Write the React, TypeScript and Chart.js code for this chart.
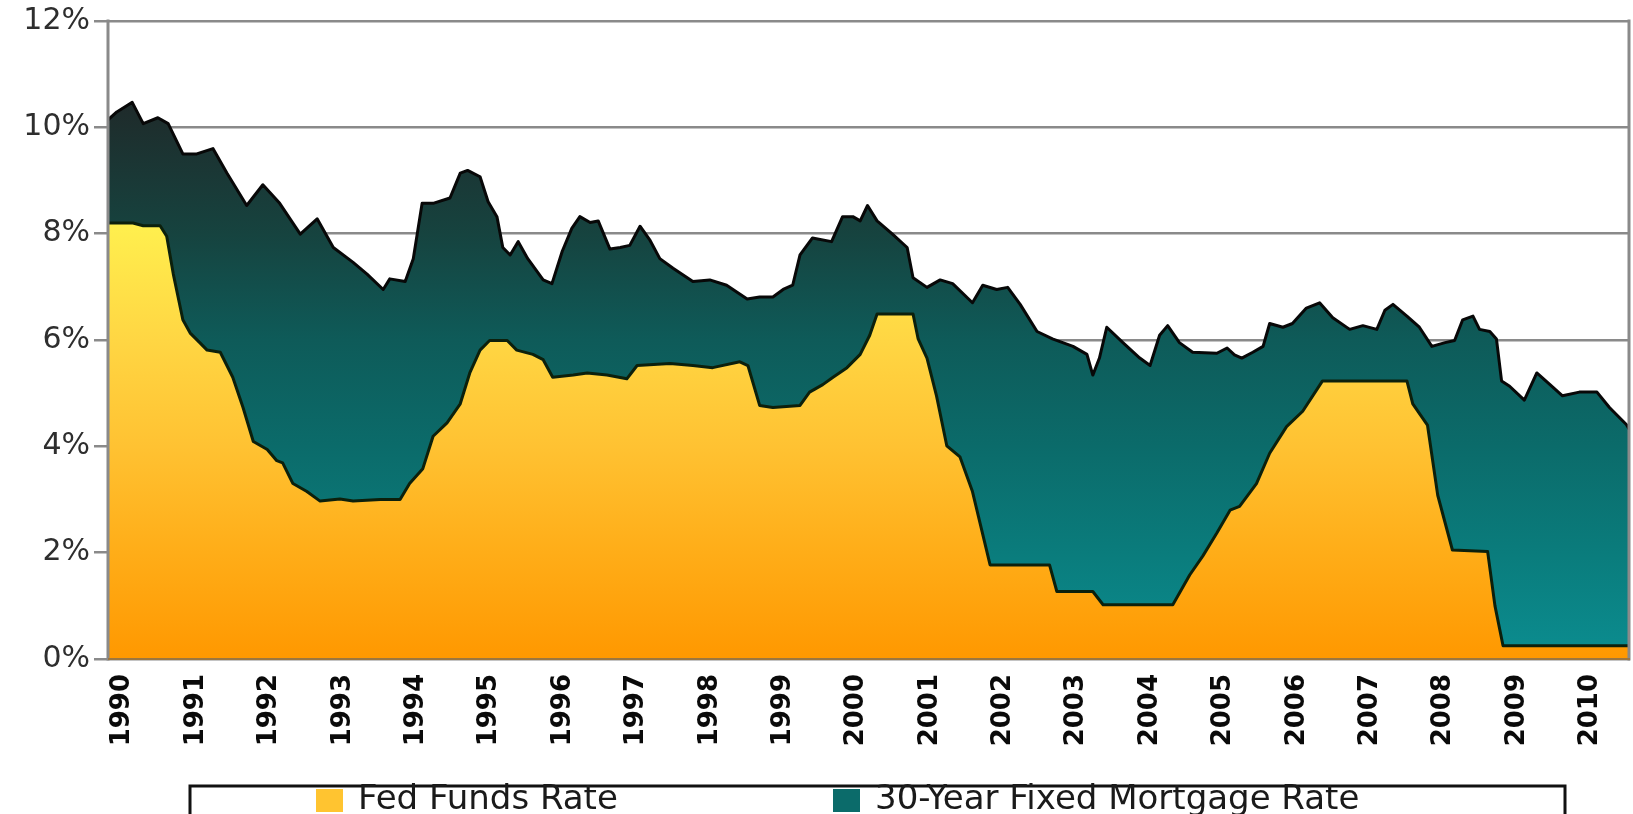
import React, { useEffect, useRef } from 'react';
import { Chart, registerables } from 'chart.js';

Chart.register(...registerables);

// ---------- data ----------
const seriesNames = ['Fed Funds Rate', '30-Year Fixed Mortgage Rate'];

const yearTicks = [
  1990, 1991, 1992, 1993, 1994, 1995, 1996, 1997, 1998, 1999, 2000,
  2001, 2002, 2003, 2004, 2005, 2006, 2007, 2008, 2009, 2010,
];

const fedYears = [
  1989.8, 1990.14, 1990.28, 1990.51, 1990.6, 1990.69, 1990.82, 1990.92, 1991.05, 1991.15,
  1991.33, 1991.5, 1991.64, 1991.78, 1991.97, 1992.1, 1992.18, 1992.32, 1992.51, 1992.69,
  1992.96, 1993.14, 1993.51, 1993.78, 1993.91, 1994.09, 1994.23, 1994.42, 1994.6, 1994.73,
  1994.87, 1995.0, 1995.24, 1995.37, 1995.59, 1995.73, 1995.86, 1996.14, 1996.33, 1996.6,
  1996.87, 1997.01, 1997.46, 1997.77, 1998.04, 1998.41, 1998.52, 1998.68, 1998.86, 1999.23,
  1999.36, 1999.54, 1999.68, 1999.87, 2000.05, 2000.18, 2000.28, 2000.77, 2000.84, 2000.96,
  2001.09, 2001.23, 2001.41, 2001.58, 2001.82, 2002.63, 2002.73, 2003.22, 2003.36, 2004.31,
  2004.54, 2004.72, 2004.91, 2005.09, 2005.22, 2005.45, 2005.63, 2005.86, 2006.08, 2006.35,
  2007.5, 2007.58, 2007.78, 2007.92, 2008.12, 2008.6, 2008.7, 2008.81, 2010.54,
];
const fedRates = [
  8.2, 8.2, 8.15, 8.15, 7.95, 7.24, 6.38, 6.13, 5.95, 5.81,
  5.77, 5.3, 4.73, 4.09, 3.94, 3.73, 3.69, 3.3, 3.15, 2.97,
  3.01, 2.97, 3.0, 3.0, 3.3, 3.58, 4.19, 4.44, 4.8, 5.38,
  5.81, 5.99, 5.99, 5.81, 5.73, 5.63, 5.3, 5.34, 5.38, 5.34,
  5.27, 5.52, 5.56, 5.52, 5.48, 5.59, 5.52, 4.77, 4.73, 4.77,
  5.02, 5.16, 5.3, 5.48, 5.73, 6.09, 6.49, 6.49, 6.02, 5.66,
  4.95, 4.01, 3.8, 3.15, 1.77, 1.77, 1.27, 1.27, 1.02, 1.02,
  1.58, 1.94, 2.37, 2.8, 2.87, 3.3, 3.87, 4.37, 4.66, 5.23,
  5.23, 4.8, 4.4, 3.08, 2.05, 2.02, 1.0, 0.25, 0.25,
];

const mortgageYears = [
  1989.8, 1989.92, 1990.13, 1990.28, 1990.48, 1990.62, 1990.82, 1991.01, 1991.23, 1991.42,
  1991.69, 1991.91, 1992.14, 1992.42, 1992.65, 1992.87, 1993.14, 1993.33, 1993.55, 1993.64,
  1993.85, 1993.96, 1994.08, 1994.23, 1994.46, 1994.6, 1994.7, 1994.87, 1994.98, 1995.1,
  1995.18, 1995.28, 1995.39, 1995.52, 1995.73, 1995.85, 1995.99, 1996.12, 1996.23, 1996.37,
  1996.48, 1996.64, 1996.78, 1996.91, 1997.05, 1997.18, 1997.32, 1997.5, 1997.77, 1998.0,
  1998.23, 1998.51, 1998.68, 1998.86, 1999.0, 1999.13, 1999.23, 1999.4, 1999.66, 1999.81,
  1999.95, 2000.05, 2000.15, 2000.28, 2000.49, 2000.69, 2000.77, 2000.96, 2001.14, 2001.31,
  2001.58, 2001.72, 2001.91, 2002.06, 2002.23, 2002.46, 2002.67, 2002.95, 2003.14, 2003.22,
  2003.31, 2003.41, 2003.63, 2003.86, 2004.0, 2004.13, 2004.24, 2004.4, 2004.58, 2004.91,
  2005.05, 2005.15, 2005.25, 2005.4, 2005.54, 2005.63, 2005.81, 2005.94, 2006.13, 2006.31,
  2006.49, 2006.72, 2006.9, 2007.09, 2007.2, 2007.31, 2007.5, 2007.67, 2007.84, 2008.02,
  2008.15, 2008.26, 2008.4, 2008.49, 2008.63, 2008.72, 2008.79, 2008.9, 2009.1, 2009.27,
  2009.45, 2009.62, 2009.85, 2010.09, 2010.26, 2010.49, 2010.54,
];
const mortgageRates = [
  10.14, 10.29, 10.47, 10.07, 10.18, 10.07, 9.5, 9.5, 9.6, 9.14,
  8.53, 8.92, 8.57, 7.99, 8.28, 7.74, 7.46, 7.24, 6.95, 7.15,
  7.1, 7.53, 8.57, 8.57, 8.67, 9.14, 9.19, 9.07, 8.6, 8.32,
  7.74, 7.6, 7.85, 7.53, 7.13, 7.06, 7.67, 8.1, 8.32, 8.21,
  8.24, 7.71, 7.74, 7.78, 8.14, 7.89, 7.53, 7.35, 7.1, 7.13,
  7.03, 6.77, 6.81, 6.81, 6.95, 7.03, 7.6, 7.92, 7.85, 8.32,
  8.32, 8.24, 8.53, 8.24, 7.99, 7.74, 7.17, 6.99, 7.13, 7.06,
  6.7, 7.03, 6.95, 6.99, 6.67, 6.16, 6.02, 5.88, 5.73, 5.34,
  5.66, 6.24, 5.95, 5.66, 5.52, 6.09, 6.27, 5.95, 5.77, 5.75,
  5.85, 5.72, 5.66, 5.77, 5.88, 6.31, 6.24, 6.31, 6.6, 6.7,
  6.42, 6.2, 6.27, 6.2, 6.56, 6.67, 6.45, 6.24, 5.88, 5.95,
  5.99, 6.38, 6.45, 6.2, 6.16, 6.02, 5.23, 5.13, 4.87, 5.38,
  5.16, 4.95, 5.02, 5.02, 4.73, 4.41, 4.3,
];

const X_MIN = 1989.8;
const X_MAX = 2010.54;
const Y_MAX = 12;

// ---------- styling helpers ----------
const fedStops: [number, string][] = [
  [0, '#ff9800'], [2, '#ffad18'], [4, '#ffc232'], [6, '#ffd643'], [8.5, '#fff350'], [12, '#fff860'],
];
const mortgageStops: [number, string][] = [
  [0, '#0b8d90'], [2, '#0a7c7c'], [4, '#0b6b6a'], [6, '#0e5b59'], [8, '#16433f'], [10.5, '#1f2a2a'], [12, '#1f2626'],
];

function verticalGradient(chart: any, stops: [number, string][]) {
  const { ctx, chartArea, scales } = chart;
  if (!chartArea || !scales.y) return 'rgba(0,0,0,0)';
  const y = scales.y;
  const g = ctx.createLinearGradient(0, y.getPixelForValue(0), 0, y.getPixelForValue(Y_MAX));
  stops.forEach(([v, c]) => g.addColorStop(v / Y_MAX, c));
  return g;
}

const framePlugin = {
  id: 'frameLines',
  afterDatasetsDraw(chart: any) {
    const { ctx, chartArea: a } = chart;
    ctx.save();
    ctx.strokeStyle = '#8a8a8a';
    ctx.lineWidth = 3;
    ctx.beginPath();
    ctx.moveTo(a.left, a.top - 1.5);
    ctx.lineTo(a.left, a.bottom + 1.5);
    ctx.moveTo(a.right - 1, a.top - 1.5);
    ctx.lineTo(a.right - 1, a.bottom + 1.5);
    ctx.stroke();
    ctx.strokeStyle = '#9c7640';
    ctx.lineWidth = 2;
    ctx.beginPath();
    ctx.moveTo(a.left, a.bottom);
    ctx.lineTo(a.right, a.bottom);
    ctx.stroke();
    ctx.restore();
  },
};

const legendPlugin = {
  id: 'boxedLegend',
  afterDraw(chart: any) {
    const { ctx, chartArea: a } = chart;
    const top = a.bottom + 127;
    ctx.save();
    ctx.strokeStyle = '#111';
    ctx.lineWidth = 3;
    ctx.strokeRect(190, top, 1375, 80);
    const items = [
      { x: 316, color: '#ffc430', text: seriesNames[0] },
      { x: 833, color: '#0b6b6a', text: seriesNames[1] },
    ];
    ctx.font = '34px "DejaVu Sans"';
    ctx.textBaseline = 'middle';
    ctx.textAlign = 'left';
    items.forEach((it) => {
      ctx.fillStyle = it.color;
      ctx.fillRect(it.x, top + 3, 27, 23);
      ctx.fillStyle = '#1a1a1a';
      ctx.fillText(it.text, it.x + 42, top + 14);
    });
    ctx.restore();
  },
};

export default function App() {
  const ref = useRef<HTMLCanvasElement>(null);

  useEffect(() => {
    const canvas = ref.current;
    if (!canvas) return;
    const chart = new Chart(canvas, {
      type: 'line',
      data: {
        datasets: [
          {
            label: seriesNames[0],
            data: fedYears.map((x, i) => ({ x, y: fedRates[i] })),
            borderColor: '#0c200c',
            borderWidth: 3,
            backgroundColor: (c: any) => verticalGradient(c.chart, fedStops),
            fill: 'origin',
            pointRadius: 0,
            tension: 0,
            borderJoinStyle: 'round',
          },
          {
            label: seriesNames[1],
            data: mortgageYears.map((x, i) => ({ x, y: mortgageRates[i] })),
            borderColor: '#080808',
            borderWidth: 3,
            backgroundColor: (c: any) => verticalGradient(c.chart, mortgageStops),
            fill: 'origin',
            pointRadius: 0,
            tension: 0,
            borderJoinStyle: 'round',
          },
        ],
      },
      options: {
        animation: false,
        responsive: false,
        events: [],
        layout: { padding: { left: 0, right: 3, top: 21, bottom: 0 } },
        plugins: {
          legend: { display: false },
          tooltip: { enabled: false },
          title: { display: false },
        },
        scales: {
          x: {
            type: 'linear',
            min: X_MIN,
            max: X_MAX,
            grid: { display: false, drawTicks: false },
            border: { display: false },
            afterBuildTicks: (axis: any) => {
              axis.ticks = yearTicks.map((v) => ({ value: v }));
            },
            afterFit: (scale: any) => {
              scale.height = 155;
              scale.paddingLeft = 0;
              scale.paddingRight = 0;
            },
            ticks: {
              autoSkip: false,
              minRotation: 90,
              maxRotation: 90,
              padding: 15,
              color: '#0a0a0a',
              font: { family: '"DejaVu Sans"', size: 26, weight: 'bold' },
              callback: (v: any) => String(v),
            },
          },
          y: {
            min: 0,
            max: Y_MAX,
            afterFit: (scale: any) => {
              scale.width = 108;
              scale.paddingTop = 0;
              scale.paddingBottom = 0;
            },
            grid: {
              color: '#8a8a8a',
              lineWidth: 2.5,
              drawTicks: true,
              tickLength: 14,
            },
            border: { display: false },
            ticks: {
              stepSize: 2,
              padding: 4,
              color: '#2e2e2e',
              font: { family: '"DejaVu Sans"', size: 30 },
              callback: (v: any) => `${v}%`,
            },
          },
        },
      },
      plugins: [framePlugin, legendPlugin],
    } as any);
    return () => chart.destroy();
  }, []);

  return (
    <div
      style={{
        position: 'fixed',
        left: 0,
        top: 0,
        width: 1633,
        height: 814,
        overflow: 'hidden',
        background: '#fff',
      }}
    >
      <canvas ref={ref} width={1633} height={814} style={{ display: 'block' }} />
    </div>
  );
}
